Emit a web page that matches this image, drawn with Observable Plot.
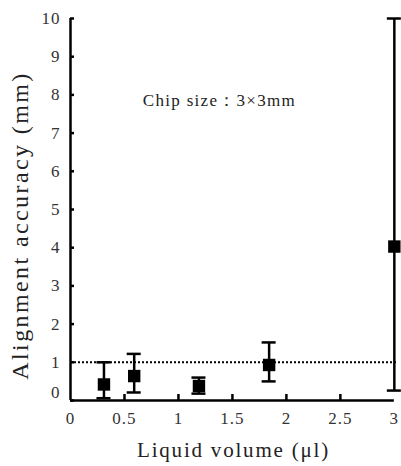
<!DOCTYPE html>
<html>
<head>
<meta charset="utf-8">
<script src="https://cdn.jsdelivr.net/npm/d3@7"></script>
<script src="https://cdn.jsdelivr.net/npm/@observablehq/plot@0.6"></script>
<style>
  html, body { margin: 0; padding: 0; background: #fff; }
  #chart svg, #chart svg text { font-family: "Liberation Serif", "DejaVu Serif", serif !important; }
  #chart .tick-lab text { letter-spacing: 1px; }
  #chart .chip-lab text { letter-spacing: 1.3px; }
  #chart .x-title text { letter-spacing: 1.8px; }
  #chart .y-title text { letter-spacing: 2.4px; }
</style>
</head>
<body>
<div id="chart"></div>
<script>
// Data
const volume   = [0.31, 0.59, 1.19, 1.84, 3.0];
const accuracy = [0.42, 0.64, 0.38, 0.93, 4.03];
const errLow   = [0.06, 0.21, 0.18, 0.50, 0.26];
const errHigh  = [1.00, 1.22, 0.60, 1.52, 10.0];
const threshold = [1];
const xTicks = [0, 0.5, 1, 1.5, 2, 2.5, 3];
const yTicks = [0, 1, 2, 3, 4, 5, 6, 7, 8, 9, 10];
const annotation = [{x: 0.67, y: 7.85, text: "Chip size：3×3mm"}];
const xLabel = "Liquid volume (μl)";
const yLabel = "Alignment accuracy (mm)";

const data = volume.map((v, i) => ({x: v, y: accuracy[i], lo: errLow[i], hi: errHigh[i]}));

const W = 401, H = 466;
const mL = 70, mR = 5, mT = 18, mB = 66;
const frameW = W - mL - mR, frameH = H - mT - mB;
const serif = "Liberation Serif";

const plot = Plot.plot({
  width: W,
  height: H,
  marginLeft: mL,
  marginRight: mR,
  marginTop: mT,
  marginBottom: mB,
  style: {background: "#fff"},
  x: {domain: [0, 3.02]},
  y: {domain: [0, 10]},
  marks: [
    // tick labels
    Plot.axisX(xTicks, {className: "tick-lab", tickSize: 0, tickPadding: 11, fontSize: 17, fontFamily: serif, fill: "#333", tickFormat: d => String(d), label: null}),
    Plot.axisY(yTicks.filter(d => d > 0), {className: "tick-lab", tickSize: 0, tickPadding: 10, fontSize: 17, fontFamily: serif, fill: "#333", tickFormat: d => String(d), label: null}),
    Plot.axisY(yTicks.filter(d => d === 0), {className: "tick-lab", tickSize: 0, tickPadding: 10, dy: -8, fontSize: 17, fontFamily: serif, fill: "#333", tickFormat: d => String(d), label: null}),
    // inward ticks
    Plot.tickX(xTicks.filter(d => d > 0 && d < 3), {x: d => d, insetTop: frameH - 6, stroke: "#000", strokeWidth: 2.5}),
    Plot.tickY(yTicks, {y: d => d, insetRight: frameW - 4, stroke: "#000", strokeWidth: 2.5}),
    // threshold line
    Plot.ruleY(threshold, {stroke: "#000", strokeWidth: 2, strokeDasharray: "2,2"}),
    // axis lines
    Plot.ruleX([0], {stroke: "#000", strokeWidth: 2.5}),
    Plot.ruleY([0], {x1: 0, x2: 3, stroke: "#000", strokeWidth: 2.5}),
    // error bars
    Plot.ruleX(data, {x: "x", y1: "lo", y2: "hi", stroke: "#000", strokeWidth: 2.5}),
    Plot.ruleY(data, {x1: "x", x2: "x", y: "lo", insetLeft: -7, insetRight: -7, stroke: "#000", strokeWidth: 2.5}),
    Plot.ruleY(data, {x1: "x", x2: "x", y: "hi", insetLeft: -7, insetRight: -7, stroke: "#000", strokeWidth: 2.5}),
    // points
    Plot.dot(data, {x: "x", y: "y", symbol: "square", r: 7, fill: "#000", stroke: "none"}),
    // annotation
    Plot.text(annotation, {className: "chip-lab", x: "x", y: "y", text: "text", textAnchor: "start", fontSize: 17, fontFamily: serif, fill: "#222"}),
    // axis titles
    Plot.text([xLabel], {className: "x-title", frameAnchor: "bottom", dy: 50, lineAnchor: "middle", textAnchor: "middle", text: d => d, fontSize: 21, fontFamily: serif, fill: "#222"}),
    Plot.text([yLabel], {className: "y-title", frameAnchor: "left", dx: -50, dy: 16, rotate: -90, lineAnchor: "middle", textAnchor: "middle", text: d => d, fontSize: 24, fontFamily: serif, fill: "#222"})
  ]
});
document.getElementById("chart").appendChild(plot);
</script>
</body>
</html>
